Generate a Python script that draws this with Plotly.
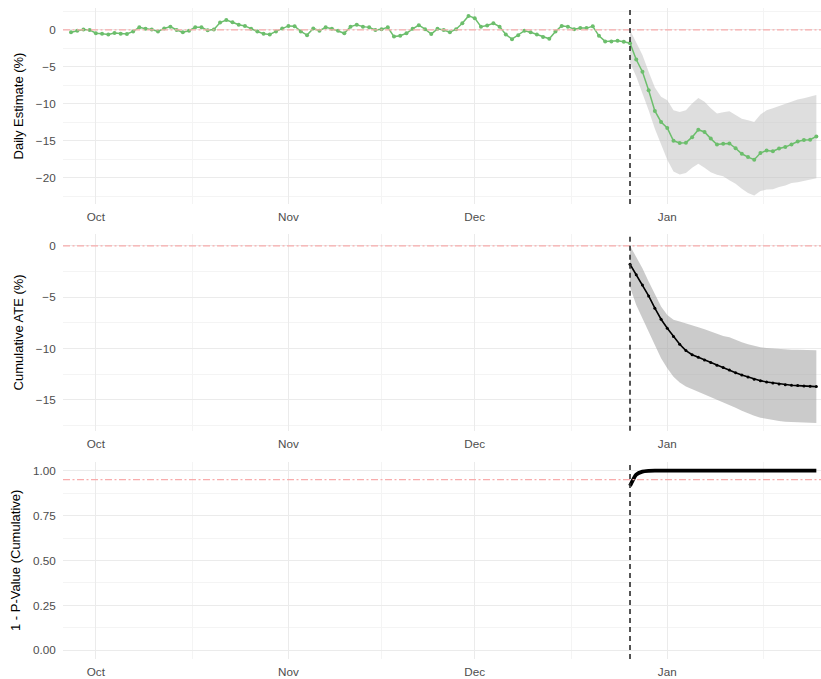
import pandas as pd
import plotly.graph_objects as go

# ---------------- data ----------------
start_date = "2019-09-27"
end_date = "2020-01-25"
intervention_date = "2019-12-26"

daily_estimate = [
    -0.3, -0.1, 0.05, 0.0,
    -0.45, -0.5, -0.6, -0.4, -0.5, -0.55, -0.2, 0.35, 0.15, 0.05, -0.2, 0.2, 0.45, 0.0, -0.3, -0.1,
    0.35, 0.35, -0.05, 0.05, 1.0, 1.35, 1.05, 0.7, 0.55, 0.15, -0.2, -0.5, -0.6, -0.2, 0.2,
    0.55, 0.5, -0.2, -0.7, 0.2, -0.1, 0.35, 0.15, -0.1, -0.45, 0.45, 0.7, 0.45, 0.35, 0.0,
    0.1, 0.35, -0.9, -0.78, -0.45, 0.15, 0.65, 0.1, -0.55, 0.15, 0.0, -0.3, 0.1, 0.9, 1.9,
    1.6, 0.45, 0.6, 0.9, 0.45, -0.6, -1.25, -0.7, -0.1, -0.3, -0.6, -0.95, -1.2, -0.2, 0.55,
    0.45, 0.1, 0.25, 0.25, 0.5, -0.8, -1.55, -1.55, -1.45, -1.6, -1.8, -4.0, -5.65, -8.15, -10.95, -12.45,
    -13.25, -15.0, -15.3, -15.25, -14.5, -13.5, -13.8, -14.7, -15.5, -15.4, -15.35, -16.0, -16.75, -17.2, -17.55,
    -16.65, -16.3, -16.4, -16.05, -15.85, -15.5, -15.1, -14.9, -14.85, -14.4,
]

daily_upper = [
    0.0, -1.6, -3.4, -5.65, -7.8, -9.05,
    -9.5, -10.85, -11.1, -10.85, -9.95, -9.2, -9.7, -10.6, -11.3, -11.15, -11.0, -11.5, -12.0, -12.2, -12.45,
    -11.45, -10.85, -10.6, -10.3, -9.95, -9.6, -9.4, -9.25, -9.05, -8.8,
]
daily_lower = [
    -4.4, -6.3, -8.6, -10.85, -13.35, -15.4,
    -17.55, -19.15, -19.55, -19.35, -18.65, -18.1, -18.65, -19.25, -19.6, -19.8, -20.35, -20.8, -21.5, -22.05, -22.4,
    -21.8, -21.6, -21.55, -21.25, -21.05, -20.7, -20.6, -20.45, -20.25, -20.05,
]

cumulative_ate = [
    -1.79, -2.82, -3.8, -4.87, -6.07, -7.14,
    -8.02, -8.83, -9.58, -10.19, -10.6, -10.84, -11.1, -11.36, -11.62, -11.85, -12.08, -12.34, -12.56, -12.76, -12.99,
    -13.12, -13.25, -13.34, -13.44, -13.51, -13.57, -13.6, -13.64, -13.67, -13.7,
]
cumulative_upper = [
    0.0, -1.04, -2.18, -3.47, -4.77, -5.9,
    -6.72, -7.2, -7.37, -7.53, -7.7, -7.92, -8.12, -8.34, -8.57, -8.77, -8.9, -9.16, -9.38, -9.58, -9.74,
    -9.87, -9.94, -10.0, -10.06, -10.09, -10.11, -10.12, -10.14, -10.15, -10.16,
]
cumulative_lower = [
    -4.0, -5.75, -7.05, -8.34, -9.64, -10.94,
    -11.92, -12.73, -13.31, -13.7, -13.96, -14.19, -14.42, -14.68, -14.94, -15.23, -15.49, -15.75, -16.04, -16.3, -16.53,
    -16.72, -16.85, -16.95, -17.05, -17.11, -17.14, -17.18, -17.21, -17.22, -17.24,
]

one_minus_p = [
    0.915, 0.978, 0.995, 0.999, 1.0, 1.0,
    1.0, 1.0, 1.0, 1.0, 1.0, 1.0, 1.0, 1.0, 1.0, 1.0, 1.0, 1.0, 1.0, 1.0, 1.0,
    1.0, 1.0, 1.0, 1.0, 1.0, 1.0, 1.0, 1.0, 1.0, 1.0,
]

daily_ref = 0
cumulative_ref = 0
p_ref = 0.95

month_ticks = ["2019-10-01", "2019-11-01", "2019-12-01", "2020-01-01"]
minor_ticks = ["2019-10-16 12:00", "2019-11-16", "2019-12-16 12:00", "2020-01-16 12:00"]

dates = pd.date_range(start_date, end_date, freq="D")
post_dates = pd.date_range(intervention_date, end_date, freq="D")

# ---------------- styles ----------------
GREEN = "rgb(108,190,108)"
FONT = "Liberation Sans, Arial, sans-serif"
TICK_COLOR = "#4D4D4D"
MAJOR = "#EBEBEB"
MINOR = "#F4F4F4"
REF_COLOR = "rgb(248,172,172)"

fig = go.Figure()

# panel 1: daily estimate
fig.add_trace(go.Scatter(
    x=list(post_dates) + list(post_dates[::-1]),
    y=daily_upper + daily_lower[::-1],
    fill="toself", fillcolor="rgba(190,190,190,0.5)", line=dict(width=0),
    hoverinfo="skip", showlegend=False, xaxis="x", yaxis="y",
))
fig.add_trace(go.Scatter(
    x=dates, y=daily_estimate, mode="lines+markers",
    line=dict(color=GREEN, width=1.5), marker=dict(color=GREEN, size=4),
    showlegend=False, xaxis="x", yaxis="y",
))

# panel 2: cumulative ATE
fig.add_trace(go.Scatter(
    x=list(post_dates) + list(post_dates[::-1]),
    y=cumulative_upper + cumulative_lower[::-1],
    fill="toself", fillcolor="rgba(160,160,160,0.55)", line=dict(width=0),
    hoverinfo="skip", showlegend=False, xaxis="x2", yaxis="y2",
))
fig.add_trace(go.Scatter(
    x=post_dates, y=cumulative_ate, mode="lines+markers",
    line=dict(color="black", width=1.6), marker=dict(color="black", size=3),
    showlegend=False, xaxis="x2", yaxis="y2",
))

# panel 3: 1 - p-value
fig.add_trace(go.Scatter(
    x=post_dates, y=one_minus_p, mode="lines",
    line=dict(color="black", width=3.8, shape="spline", smoothing=0.6),
    showlegend=False, xaxis="x3", yaxis="y3",
))

x_range = ["2019-09-25 17:00", "2020-01-25 18:00"]

def xaxis_cfg(anchor):
    return dict(
        anchor=anchor, domain=[0, 1], range=x_range, type="date", automargin=False,
        tickmode="array", tickvals=month_ticks, tickformat="%b",
        showgrid=True, gridcolor=MAJOR, gridwidth=1,
        minor=dict(tickmode="array", tickvals=minor_ticks, showgrid=True, gridcolor=MINOR, gridwidth=1),
        zeroline=False, showline=False,
        ticks="outside", ticklen=2, tickcolor="rgba(0,0,0,0)",
        tickfont=dict(family=FONT, size=11.7, color=TICK_COLOR),
    )

def yaxis_cfg(anchor, domain, rng, tickvals, minor_vals, title, fmt=None):
    d = dict(
        anchor=anchor, domain=domain, range=rng, automargin=False,
        tickmode="array", tickvals=tickvals,
        showgrid=True, gridcolor=MAJOR, gridwidth=1,
        minor=dict(tickmode="array", tickvals=minor_vals, showgrid=True, gridcolor=MINOR, gridwidth=1),
        zeroline=False, showline=False,
        ticks="outside", ticklen=4, tickcolor="rgba(0,0,0,0)",
        tickfont=dict(family=FONT, size=11.7, color=TICK_COLOR),
        title=dict(text=title, font=dict(family=FONT, size=13, color="black"), standoff=9),
    )
    if fmt:
        d["tickformat"] = fmt
    return d

fig.update_layout(
    width=821, height=679,
    margin=dict(l=63, r=0, t=8, b=20, autoexpand=False),
    paper_bgcolor="white", plot_bgcolor="white",
    showlegend=False,
    xaxis=xaxis_cfg("y"),
    xaxis2=xaxis_cfg("y2"),
    xaxis3=xaxis_cfg("y3"),
    yaxis=yaxis_cfg("x", [0.6989, 1.0], [-23.55, 2.97], [-20, -15, -10, -5, 0],
                    [-22.5, -17.5, -12.5, -7.5, -2.5, 2.5], "Daily Estimate (%)"),
    yaxis2=yaxis_cfg("x2", [0.3507, 0.6528], [-17.99, 1.15], [-15, -10, -5, 0],
                     [-17.5, -12.5, -7.5, -2.5], "Cumulative ATE (%)"),
    yaxis3=yaxis_cfg("x3", [0.0, 0.3031], [-0.048, 1.05], [0, 0.25, 0.5, 0.75, 1.0],
                     [0.125, 0.375, 0.625, 0.875], "1 - P-Value (Cumulative)", fmt=".2f"),
)

# reference lines
for xa, ya, ref in [("x", "y", daily_ref), ("x2", "y2", cumulative_ref), ("x3", "y3", p_ref)]:
    fig.add_shape(type="line", xref=f"{xa} domain", yref=ya, x0=0, x1=1, y0=ref, y1=ref,
                  line=dict(color=REF_COLOR, width=1.2, dash="7px,2.5px,2px,2.5px"), layer="above")
    fig.add_shape(type="line", xref=xa, yref=f"{ya} domain", x0=intervention_date, x1=intervention_date,
                  y0=0, y1=1, line=dict(color="#2A2A2A", width=1.6, dash="5px,4px"), layer="above")

fig.write_html("out.html", config={"displayModeBar": False},
               post_script="document.body.style.margin='0';document.body.style.overflow='hidden';")
